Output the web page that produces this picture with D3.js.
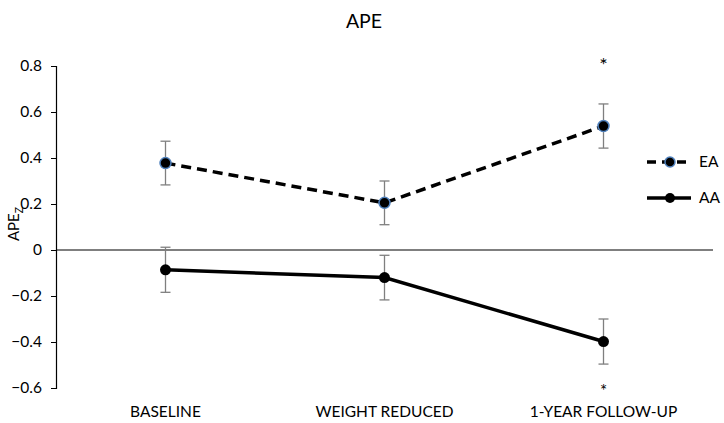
<!DOCTYPE html>
<html><head><meta charset="utf-8">
<script src="https://cdn.jsdelivr.net/npm/d3@7"></script>
<style>body{margin:0;background:#fff;} text{font-family:Lato,"Open Sans",sans-serif;}</style>
</head><body>
<svg id="c" width="724" height="423"></svg>
<script>
const categories = ["BASELINE", "WEIGHT REDUCED", "1-YEAR FOLLOW-UP"];
const eaValues = [0.378, 0.205, 0.539];
const eaErrors = [0.095, 0.095, 0.096];
const aaValues = [-0.086, -0.120, -0.398];
const aaErrors = [0.098, 0.097, 0.098];
const yTicks = [-0.6, -0.4, -0.2, 0, 0.2, 0.4, 0.6, 0.8];
const seriesNames = ["EA", "AA"];
const sigTop = [null, null, true];

const svg = d3.select("#c");
const x = d3.scaleBand().domain(categories).range([56, 713]);
const y = d3.scaleLinear().domain([-0.6, 0.8]).range([388, 66]);
const cx = d => x(d) + x.bandwidth() / 2;

// title
svg.append("text").attr("x", 364).attr("y", 28).attr("text-anchor", "middle")
  .attr("font-size", 19.5).attr("fill", "#000").text("APE");

// y axis
const ya = svg.append("g").attr("transform", "translate(56,0)")
  .call(d3.axisLeft(y).tickValues(yTicks).tickSize(5).tickFormat(d => d === 0 ? "0" : d3.format(".1f")(d)));
ya.select(".domain").attr("stroke", "#000").attr("stroke-width", 1.2);
ya.selectAll(".tick line").attr("stroke", "#000");
ya.selectAll(".tick text").attr("font-size", 15.5).attr("fill", "#000").attr("x", -14)
  .style("font-family", "Lato, 'Open Sans', sans-serif");

// zero line
svg.append("line").attr("x1", 56).attr("x2", 713).attr("y1", y(0)).attr("y2", y(0))
  .attr("stroke", "#000").attr("stroke-width", 1.2);

// y label
const yl = svg.append("text").attr("transform", `translate(19,${224}) rotate(-90)`)
  .attr("text-anchor", "middle").attr("font-size", 15).attr("fill", "#000");
yl.append("tspan").text("APE");
yl.append("tspan").attr("font-size", 10.5).attr("dy", 4).text("Z");

// category labels
categories.forEach(c => {
  svg.append("text").attr("x", cx(c)).attr("y", 417).attr("text-anchor", "middle")
    .attr("font-size", 15.5).attr("fill", "#000").text(c);
});

function drawSeries(vals, errs, dashed, markerStroke) {
  const pts = categories.map((c, i) => ({c, v: vals[i], e: errs[i]}));
  // error bars
  pts.forEach(p => {
    const g = svg.append("g").attr("stroke", "#7f7f7f").attr("stroke-width", 1.3);
    g.append("line").attr("x1", cx(p.c)).attr("x2", cx(p.c)).attr("y1", y(p.v + p.e)).attr("y2", y(p.v - p.e));
    g.append("line").attr("x1", cx(p.c) - 5).attr("x2", cx(p.c) + 5).attr("y1", y(p.v + p.e)).attr("y2", y(p.v + p.e));
    g.append("line").attr("x1", cx(p.c) - 5).attr("x2", cx(p.c) + 5).attr("y1", y(p.v - p.e)).attr("y2", y(p.v - p.e));
  });
  svg.append("path").datum(pts)
    .attr("d", d3.line().x(p => cx(p.c)).y(p => y(p.v)))
    .attr("fill", "none").attr("stroke", "#000").attr("stroke-width", 3.5)
    .attr("stroke-dasharray", dashed ? "10,6" : null);
  pts.forEach(p => {
    svg.append("circle").attr("cx", cx(p.c)).attr("cy", y(p.v)).attr("r", 5.5)
      .attr("fill", "#000").attr("stroke", markerStroke).attr("stroke-width", markerStroke === "#000" ? 0 : 1.5);
  });
}
drawSeries(eaValues, eaErrors, true, "#4f81bd");
drawSeries(aaValues, aaErrors, false, "#000");

// significance asterisks
sigTop.forEach((s, i) => {
  if (!s) return;
  svg.append("text").attr("x", cx(categories[i])).attr("y", 72).attr("text-anchor", "middle")
    .attr("font-size", 20).attr("fill", "#000").text("*");
  svg.append("text").attr("x", cx(categories[i])).attr("y", 397).attr("text-anchor", "middle")
    .attr("font-size", 17).attr("fill", "#000").text("*");
});

// legend
[{n: seriesNames[0], dash: true, s: "#4f81bd", yy: 162}, {n: seriesNames[1], dash: false, s: "#000", yy: 198}].forEach(l => {
  svg.append("line").attr("x1", 647).attr("x2", 691).attr("y1", l.yy).attr("y2", l.yy)
    .attr("stroke", "#000").attr("stroke-width", 3.5).attr("stroke-dasharray", l.dash ? "9,6" : null);
  svg.append("circle").attr("cx", 670).attr("cy", l.yy).attr("r", 5)
    .attr("fill", "#000").attr("stroke", l.s).attr("stroke-width", l.dash ? 1.5 : 0);
  svg.append("text").attr("x", 699).attr("y", l.yy + 5).attr("font-size", 15.5).attr("fill", "#000").text(l.n);
});
</script>
</body></html>
